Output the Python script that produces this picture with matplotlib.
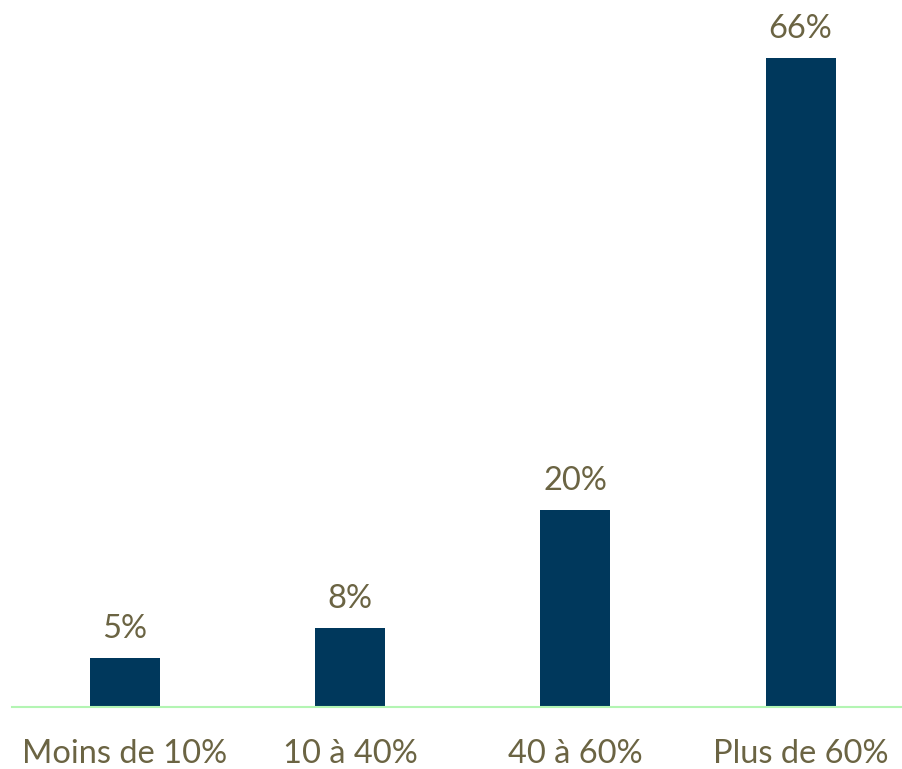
import matplotlib.pyplot as plt

categories = ['Moins de 10%', '10 à 40%', '40 à 60%', 'Plus de 60%']
values = [5, 8, 20, 66]

plt.rcParams['font.family'] = ['Lato', 'DejaVu Sans']
text_color = '#6b6443'

fig = plt.figure(figsize=(9.02, 7.69), dpi=100)
ax = fig.add_axes([12 / 902, 62 / 769, 890 / 902, 707 / 769])

x = range(len(categories))
bars = ax.bar(x, values, width=0.31, color='#00385c')

for xi, v in zip(x, values):
    ax.annotate(f'{v}%', (xi, v), xytext=(0, 10), textcoords='offset points',
                ha='center', va='bottom', fontsize=23.5, color=text_color)

ax.set_xlim(-0.5, 3.45)
ax.set_ylim(0, 71.9)
ax.set_xticks(list(x))
ax.set_xticklabels(categories, fontsize=23.5, color=text_color)
ax.tick_params(axis='x', length=0, pad=23)
ax.set_yticks([])

for s in ['top', 'right', 'left']:
    ax.spines[s].set_visible(False)
ax.spines['bottom'].set_color('#b3f5b3')
ax.spines['bottom'].set_linewidth(1.5)

plt.savefig('out.png', dpi=100)
